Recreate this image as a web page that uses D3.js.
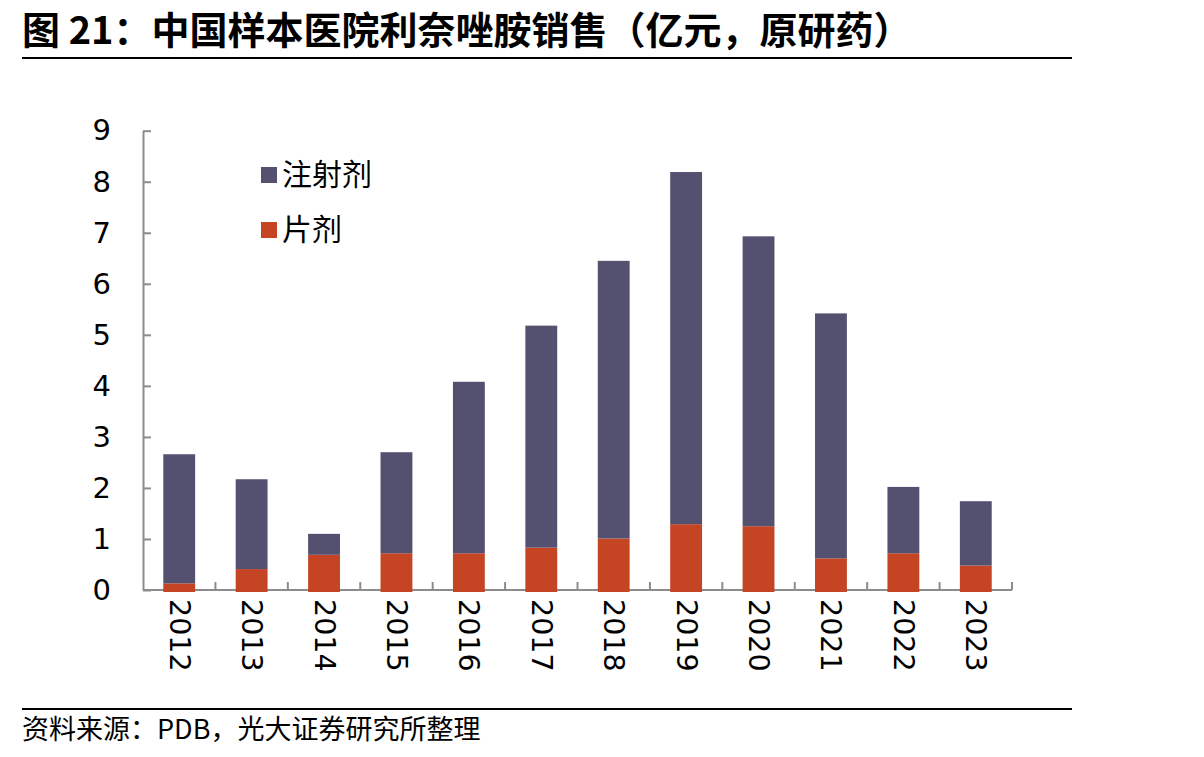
<!DOCTYPE html>
<html>
<head>
<meta charset="utf-8">
<script src="https://cdn.jsdelivr.net/npm/d3@7"></script>
<style>
  body { margin: 0; background: #fff; }
  svg { display: block; }
</style>
</head>
<body>
<div class="chart"></div>
<script>
const W = 1204, H = 757;
const cnFont = "'Noto Sans CJK SC', 'Noto Sans', sans-serif";
const numFont = "'DejaVu Sans', Verdana, sans-serif";

// data (亿元)
const years = ["2012", "2013", "2014", "2015", "2016", "2017", "2018", "2019", "2020", "2021", "2022", "2023"];
const tablet = [0.13, 0.41, 0.69, 0.72, 0.72, 0.83, 1.01, 1.29, 1.25, 0.62, 0.72, 0.48];
const injection = [2.53, 1.76, 0.41, 1.98, 3.36, 4.35, 5.44, 6.90, 5.68, 4.80, 1.30, 1.26];
const yTicks = [0, 1, 2, 3, 4, 5, 6, 7, 8, 9];
const seriesNames = ["注射剂", "片剂"];
const colors = { "注射剂": "#545070", "片剂": "#c44424" };

const title = "图 21：中国样本医院利奈唑胺销售（亿元，原研药）";
const source = "资料来源：PDB，光大证券研究所整理";

const svg = d3.select(".chart").append("svg")
    .attr("width", W)
    .attr("height", H);

// title + rules
svg.append("text")
    .attr("x", 22)
    .attr("y", 44)
    .attr("font-family", cnFont)
    .attr("font-weight", "bold")
    .attr("font-size", 38)
    .attr("fill", "#000")
    .text(title);
svg.append("line")
    .attr("x1", 22).attr("x2", 1072)
    .attr("y1", 58).attr("y2", 58)
    .attr("stroke", "#000").attr("stroke-width", 2);
svg.append("line")
    .attr("x1", 22).attr("x2", 1072)
    .attr("y1", 709).attr("y2", 709)
    .attr("stroke", "#000").attr("stroke-width", 2);
svg.append("text")
    .attr("x", 22)
    .attr("y", 739)
    .attr("font-family", cnFont)
    .attr("font-size", 27)
    .attr("fill", "#000")
    .text(source);

// scales
const x = d3.scaleBand()
    .domain(years)
    .range([143, 1012])
    .paddingInner(0.56)
    .paddingOuter(0.28);
const y = d3.scaleLinear()
    .domain([0, 9])
    .range([590, 130.7]);

const axisColor = "#8c8c8c";

// y axis
const yAxis = svg.append("g")
    .attr("transform", `translate(${x.range()[0]},0)`)
    .call(d3.axisLeft(y).tickValues(yTicks).tickFormat(d3.format("d")).tickSizeInner(-8).tickSizeOuter(0).tickPadding(32));
yAxis.select(".domain").attr("stroke", axisColor).attr("stroke-width", 2);
yAxis.selectAll(".tick line").attr("stroke", axisColor).attr("stroke-width", 2);
yAxis.selectAll(".tick text")
    .attr("font-family", numFont)
    .attr("font-size", 29)
    .attr("fill", "#000");

// x axis: line + ticks at band boundaries
const g = svg.append("g");
g.append("line")
    .attr("x1", x.range()[0]).attr("x2", x.range()[1])
    .attr("y1", y(0)).attr("y2", y(0))
    .attr("stroke", axisColor).attr("stroke-width", 2);
g.selectAll(".xtick")
    .data(years)
    .enter()
    .append("line")
    .attr("class", "xtick")
    .attr("x1", (d, i) => x.range()[0] + (i + 1) * x.step())
    .attr("x2", (d, i) => x.range()[0] + (i + 1) * x.step())
    .attr("y1", y(0))
    .attr("y2", y(0) - 8)
    .attr("stroke", axisColor)
    .attr("stroke-width", 2);

// x labels, rotated
g.selectAll(".xlabel")
    .data(years)
    .enter()
    .append("text")
    .attr("class", "xlabel")
    .attr("transform", d => `translate(${x(d) + x.bandwidth() / 2},${y(0) + 9}) rotate(90)`)
    .attr("dominant-baseline", "central")
    .attr("font-family", numFont)
    .attr("font-size", 28.5)
    .attr("fill", "#000")
    .text(d => d);

// stacked bars
const table = years.map((d, i) => ({ year: d, "片剂": tablet[i], "注射剂": injection[i] }));
const stack = d3.stack().keys(["片剂", "注射剂"])(table);

svg.append("g")
    .selectAll("g")
    .data(stack)
    .enter()
    .append("g")
    .attr("fill", s => colors[s.key])
    .selectAll("rect")
    .data(s => s)
    .enter()
    .append("rect")
    .attr("x", d => x(d.data.year))
    .attr("width", x.bandwidth())
    .attr("y", d => y(d[1]))
    .attr("height", d => (d[0] === 0 ? y(d[0]) + 2 : y(d[0])) - y(d[1]));

// legend
const legend = svg.append("g")
    .selectAll("g")
    .data(seriesNames)
    .enter()
    .append("g")
    .attr("transform", (d, i) => `translate(261,${175 + i * 55})`);
legend.append("rect")
    .attr("x", 0)
    .attr("y", -8)
    .attr("width", 16)
    .attr("height", 16)
    .attr("fill", d => colors[d]);
legend.append("text")
    .attr("x", 21)
    .attr("y", -3)
    .attr("dominant-baseline", "central")
    .attr("font-family", cnFont)
    .attr("font-size", 30)
    .attr("fill", "#000")
    .text(d => d);
</script>
</body>
</html>
